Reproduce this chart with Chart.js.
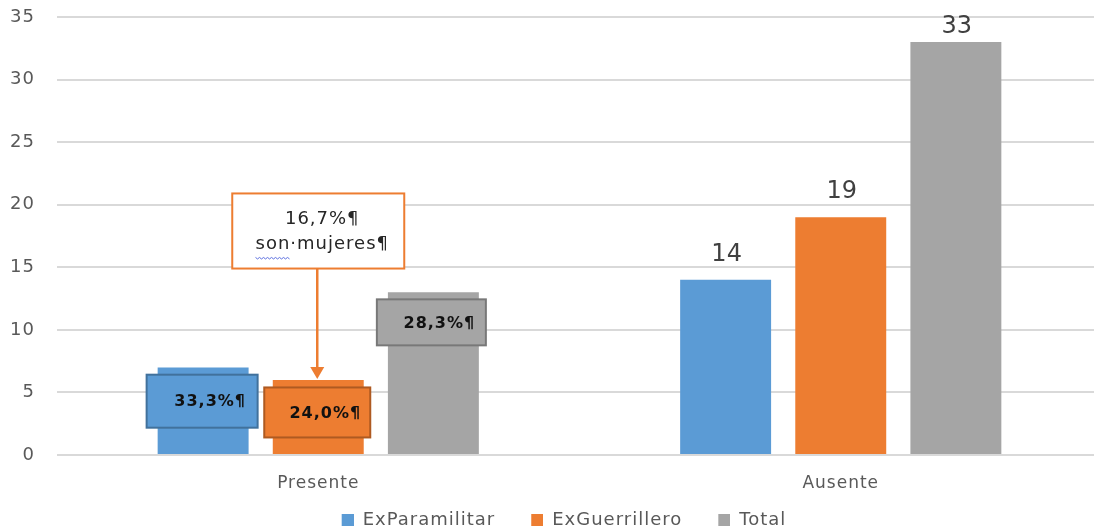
<!DOCTYPE html>
<html>
<head>
<meta charset="utf-8">
<script src="https://cdn.jsdelivr.net/npm/chart.js@4/dist/chart.umd.min.js"></script>
<style>
  html, body { margin: 0; padding: 0; background: #fff; overflow: hidden; }
  /* a little wider than the window: the right edge of the plot is cut off like in the original */
  #wrap { width: 1102px; height: 531px; position: relative; }
</style>
</head>
<body>
<div id="wrap"><canvas id="barChart"></canvas></div>
<script>
const categories = ['Presente', 'Ausente'];
const seriesNames = ['ExParamilitar', 'ExGuerrillero', 'Total'];
const exParamilitar = [7, 14];
const exGuerrillero = [6, 19];
const total = [13, 33];
const pctLabels = ['33,3%¶', '24,0%¶', '28,3%¶'];
const noteLines = ['16,7%¶', 'son·mujeres¶'];

const colors = ['#5b9bd5', '#ed7d31', '#a5a5a5'];
const borders = ['#41719c', '#ae5a21', '#787878'];
const FONT = '"DejaVu Sans", "Open Sans", sans-serif';
const LEGEND_GAP = 26;

// legend marker: square on the right, empty space on the left (extra gap between items)
function legendMarker(color) {
  const cv = document.createElement('canvas');
  cv.width = 12 + LEGEND_GAP;
  cv.height = 12;
  const g = cv.getContext('2d');
  g.fillStyle = color;
  g.fillRect(LEGEND_GAP, 0, 12, 12);
  return cv;
}

const spacingPlugin = {
  id: 'spacing',
  beforeUpdate(chart) { chart.ctx.letterSpacing = '1px'; },
  beforeDraw(chart) { chart.ctx.letterSpacing = '1px'; }
};

// callouts on the first group + value labels on the second
const calloutPlugin = {
  id: 'callouts',
  afterDatasetsDraw(chart) {
    const c = chart.ctx;
    const y = chart.scales.y;

    // value labels for Ausente
    c.save();
    c.letterSpacing = '0px';
    c.font = '24px ' + FONT;
    c.fillStyle = '#404040';
    c.textAlign = 'center';
    c.textBaseline = 'alphabetic';
    chart.data.datasets.forEach((ds, i) => {
      const bar = chart.getDatasetMeta(i).data[1];
      const base = Math.max(bar.y - 19, chart.chartArea.top + 16);
      c.fillText(ds.data[1], bar.x + 1, base);
    });
    c.restore();

    // percentage boxes for Presente
    const boxes = [
      { w: 111, h: 53, mid: 4.3, dx: -1 },
      { w: 106, h: 50, mid: 3.4, dx: -1 },
      { w: 109, h: 46, mid: 10.6, dx: -2 }
    ];
    c.save();
    chart.data.datasets.forEach((ds, i) => {
      const bar = chart.getDatasetMeta(i).data[0];
      const b = boxes[i];
      const cx = bar.x + b.dx;
      const cy = y.getPixelForValue(b.mid);
      c.fillStyle = colors[i];
      c.fillRect(cx - b.w / 2, cy - b.h / 2, b.w, b.h);
      c.strokeStyle = borders[i];
      c.lineWidth = 2;
      c.strokeRect(cx - b.w / 2, cy - b.h / 2, b.w, b.h);
      c.fillStyle = '#111';
      c.font = 'bold 16px ' + FONT;
      c.textAlign = 'center';
      c.textBaseline = 'middle';
      c.fillText(pctLabels[i], cx + 8, cy + 1);
    });
    c.restore();

    // note box with arrow pointing at ExGuerrillero / Presente
    const ob = chart.getDatasetMeta(1).data[0];
    const nx = ob.x;
    const top = y.getPixelForValue(20.9);
    const bottom = y.getPixelForValue(14.9);
    const w = 172;
    c.save();
    c.fillStyle = '#fff';
    c.fillRect(nx - w / 2, top, w, bottom - top);
    c.strokeStyle = '#ed7d31';
    c.lineWidth = 2;
    c.strokeRect(nx - w / 2, top, w, bottom - top);
    c.fillStyle = '#262626';
    c.font = '18px ' + FONT;
    c.textAlign = 'center';
    c.textBaseline = 'middle';
    c.fillText(noteLines[0], nx + 4, top + 26);
    c.fillText(noteLines[1], nx + 4, top + 51);
    // wavy underline under "son"
    const tw = c.measureText(noteLines[1]).width;
    const sx = nx + 4 - tw / 2;
    const sw = c.measureText('son').width;
    c.strokeStyle = '#5b6fe0';
    c.lineWidth = 1;
    c.beginPath();
    for (let px = 0; px <= sw; px += 2) {
      const yy = top + 64 + ((px / 2) % 2 === 0 ? 0 : 1.5);
      if (px === 0) c.moveTo(sx + px, yy); else c.lineTo(sx + px, yy);
    }
    c.stroke();
    // arrow
    const tip = y.getPixelForValue(6) - 1;
    c.strokeStyle = '#ed7d31';
    c.fillStyle = '#ed7d31';
    c.lineWidth = 2.5;
    c.beginPath();
    c.moveTo(nx - 1, bottom);
    c.lineTo(nx - 1, tip - 10);
    c.stroke();
    c.beginPath();
    c.moveTo(nx - 8, tip - 12);
    c.lineTo(nx + 6, tip - 12);
    c.lineTo(nx - 1, tip);
    c.closePath();
    c.fill();
    c.restore();
  }
};

new Chart(document.getElementById('barChart'), {
  type: 'bar',
  data: {
    labels: categories,
    datasets: [
      { label: seriesNames[0], data: exParamilitar, backgroundColor: colors[0], pointStyle: legendMarker(colors[0]) },
      { label: seriesNames[1], data: exGuerrillero, backgroundColor: colors[1], pointStyle: legendMarker(colors[1]) },
      { label: seriesNames[2], data: total, backgroundColor: colors[2], pointStyle: legendMarker(colors[2]) }
    ]
  },
  options: {
    responsive: true,
    maintainAspectRatio: false,
    animation: false,
    datasets: {
      bar: { categoryPercentage: 0.661, barPercentage: 0.79 }
    },
    layout: { padding: { top: 17, right: 0, left: 0, bottom: -8 } },
    plugins: {
      tooltip: { enabled: false },
      legend: {
        position: 'bottom',
        labels: {
          usePointStyle: true,
          pointStyleWidth: 12 + LEGEND_GAP,
          boxHeight: 12,
          padding: 10,
          color: '#595959',
          font: { family: FONT, size: 18 }
        }
      }
    },
    scales: {
      x: {
        grid: { display: false },
        border: { display: false },
        ticks: { color: '#595959', font: { family: FONT, size: 17 }, padding: 10 },
        afterFit(scale) {
          scale.height = 46;
          scale.paddingLeft = 0;
          scale.paddingRight = 0;
        }
      },
      y: {
        min: 0,
        max: 35,
        ticks: { stepSize: 5, color: '#595959', font: { family: FONT, size: 18 }, padding: 22 },
        grid: { color: '#d9d9d9', lineWidth: 2, drawTicks: false },
        border: { display: false },
        afterFit(scale) {
          scale.width = 57;
          scale.paddingTop = 0;
          scale.paddingBottom = 0;
        }
      }
    }
  },
  plugins: [spacingPlugin, calloutPlugin]
});
</script>
</body>
</html>
